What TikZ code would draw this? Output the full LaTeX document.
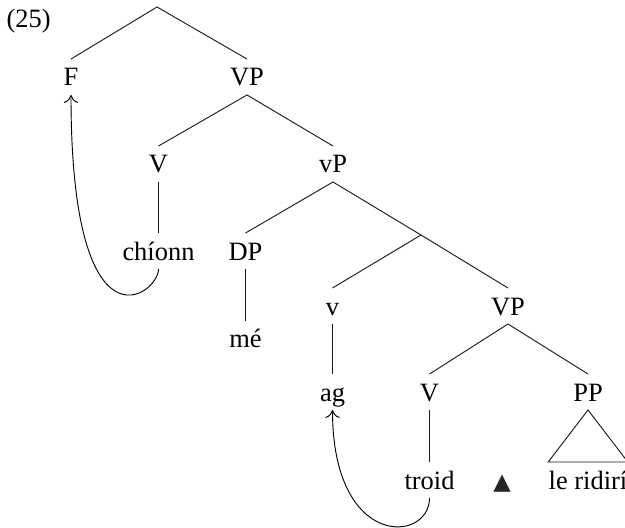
\documentclass[tikz,border=0pt]{standalone}
\usepackage{fontspec}
\setmainfont{Liberation Serif}
\newfontfamily\symfont{DejaVu Sans}
\usepackage{tikz}
\usetikzlibrary{arrows.meta}

\tikzset{
    lbl/.style={anchor=base, text height=6.8pt, text depth=0pt,
        inner ysep=3.2pt, inner xsep=0pt},
    branch/.style={draw=black!90, line width=0.35pt},
    move/.style={-{To[length=3pt,width=5.5pt]}, line width=0.35pt}
}

\begin{document}
\begin{tikzpicture}[x=0.378pt, y=-0.378pt]
    \useasboundingbox (0,0) rectangle (625,528);
    \node[anchor=base west, inner sep=0pt] (num) at (6,28) {(25)};
    \coordinate (root) at (157,7);
    \node[lbl] (F) at (71,86) {F};
    \node[lbl] (VPa) at (247,86) {VP};
    \node[lbl] (Va) at (158.5,173) {V};
    \node[lbl] (vP) at (333,173) {vP};
    \node[lbl] (chionn) at (158.5,260) {chíonn};
    \node[lbl] (DP) at (245.5,260) {DP};
    \coordinate (bar) at (421,235);
    \node[lbl] (v) at (332.5,315) {v};
    \node[lbl] (VPb) at (508,315) {VP};
    \node[lbl] (me) at (245.5,348) {mé};
    \node[lbl] (ag) at (332.5,401) {ag};
    \node[lbl] (Vb) at (429.5,401) {V};
    \node[lbl] (PP) at (588,401) {PP};
    \node[lbl] (troid) at (429.5,489) {troid};
    \node[lbl, text=black!85] (tri) at (502,489) {\symfont\fontsize{8.6}{10}\selectfont ▲};
    \node[lbl] (rid) at (588,489) {le ridirí};

    \draw[branch] (F.north) -- (root) -- (VPa.north);
    \draw[branch] (Va.north) -- (VPa.south) -- (vP.north);
    \draw[branch] (Va.south) -- (chionn.north);
    \draw[branch] (DP.north) -- (vP.south) -- (bar);
    \draw[branch] (DP.south) -- (me.north);
    \draw[branch] (v.north) -- (bar) -- (VPb.north);
    \draw[branch] (v.south) -- (ag.north);
    \draw[branch] (Vb.north) -- (VPb.south) -- (PP.north);
    \draw[branch] (Vb.south) -- (troid.north);
    \draw[branch] (PP.south) -- (rid.north west) -- (rid.north east) -- cycle;

    \draw[move] (chionn.south) .. controls +(0,26) and +(0,264) .. (F.south);
    \draw[move] (troid.south) .. controls +(0,45) and +(0,140) .. (ag.south);
\end{tikzpicture}
\end{document}
